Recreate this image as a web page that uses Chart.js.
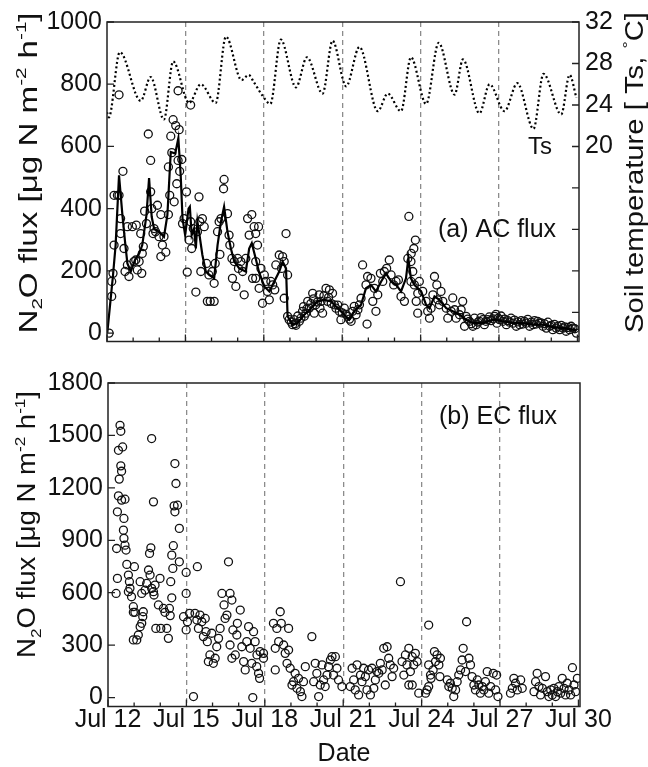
<!DOCTYPE html>
<html>
<head>
<meta charset="utf-8">
<script src="https://cdn.jsdelivr.net/npm/chart.js@4/dist/chart.umd.min.js"></script>
<style>
  html, body { margin: 0; padding: 0; background: #fff; overflow: hidden; }
  #wrap { position: relative; width: 648px; height: 767px; }
  canvas { position: absolute; left: 0; }
  #acCanvas { top: 0; }
  #ecCanvas { top: 360px; }
</style>
</head>
<body>
<div id="wrap">
  <canvas id="acCanvas" width="648" height="360"></canvas>
  <canvas id="ecCanvas" width="648" height="407"></canvas>
</div>
<script>
//..AC chamber flux (open circles, panel a)
const acDay = [
  12.08, 12.18, 12.18, 12.23, 12.27, 12.27, 12.40, 12.46, 12.46, 12.52,
  12.52, 12.61, 12.65, 12.69, 12.78, 12.78, 12.84, 12.97, 13.03, 13.10,
  13.12, 13.16, 13.23, 13.29, 13.33, 13.35, 13.39, 13.44, 13.51, 13.58,
  13.67, 13.67, 13.71, 13.76, 13.80, 13.86, 13.93, 13.99, 14.06, 14.06,
  14.12, 14.18, 14.25, 14.35, 14.35, 14.40, 14.44, 14.48, 14.53, 14.57,
  14.63, 14.67, 14.72, 14.72, 14.76, 14.78, 14.86, 14.89, 14.95, 15.04,
  15.07, 15.14, 15.20, 15.20, 15.24, 15.30, 15.40, 15.46, 15.52, 15.55,
  15.59, 15.65, 15.72, 15.81, 15.84, 15.90, 15.95, 16.03, 16.10, 16.10,
  16.14, 16.23, 16.29, 16.32, 16.36, 16.46, 16.48, 16.61, 16.67, 16.70,
  16.78, 16.80, 16.87, 16.93, 17.00, 17.03, 17.12, 17.19, 17.25, 17.31,
  17.38, 17.44, 17.54, 17.57, 17.63, 17.69, 17.69, 17.69, 17.76, 17.80,
  17.82, 17.89, 17.95, 18.02, 18.08, 18.14, 18.21, 18.27, 18.34, 18.42,
  18.46, 18.59, 18.68, 18.72, 18.78, 18.78, 18.85, 18.91, 18.91, 18.97,
  19.05, 19.10, 19.16, 19.20, 19.23, 19.30, 19.36, 19.42, 19.48, 19.52,
  19.55, 19.61, 19.65, 19.68, 19.74, 19.80, 19.87, 19.90, 19.93, 19.99,
  20.05, 20.12, 20.15, 20.19, 20.25, 20.30, 20.38, 20.44, 20.48, 20.51,
  20.58, 20.63, 20.70, 20.76, 20.83, 20.89, 20.95, 21.00, 21.08, 21.15,
  21.21, 21.28, 21.34, 21.40, 21.46, 21.53, 21.60, 21.66, 21.72, 21.78,
  21.91, 21.95, 21.97, 22.10, 22.17, 22.23, 22.29, 22.36, 22.46, 22.55,
  22.61, 22.70, 22.80, 22.87, 22.97, 23.06, 23.15, 23.25, 23.38, 23.51,
  23.55, 23.63, 23.63, 23.64, 23.70, 23.74, 23.76, 23.80, 23.83, 23.89,
  23.89, 23.95, 24.08, 24.21, 24.27, 24.34, 24.40, 24.47, 24.53, 24.62,
  24.66, 24.72, 24.78, 24.85, 24.98, 25.04, 25.17, 25.23, 25.30, 25.36,
  25.49, 25.55, 25.61, 25.68, 25.74, 25.80, 25.87, 25.94, 26.00, 26.06,
  26.13, 26.19, 26.25, 26.31, 26.38, 26.44, 26.50, 26.57, 26.63, 26.70,
  26.77, 26.83, 26.88, 26.92, 26.97, 27.02, 27.08, 27.15, 27.21, 27.28,
  27.34, 27.40, 27.46, 27.53, 27.59, 27.66, 27.72, 27.79, 27.85, 27.91,
  27.97, 28.04, 28.10, 28.17, 28.23, 28.30, 28.36, 28.42, 28.48, 28.55,
  28.61, 28.68, 28.74, 28.81, 28.87, 28.94, 29.00, 29.06, 29.12, 29.19,
  29.25, 29.32, 29.38, 29.45, 29.51, 29.57, 29.63, 29.70, 29.76, 29.83,
  29.90, 29.96
];
const acFlux = [
  0, 118, 166, 192, 283, 443, 443, 443, 766, 368,
  320, 520, 272, 198, 219, 342, 182, 342, 230, 235,
  347, 203, 230, 320, 192, 256, 278, 392, 352, 640,
  454, 555, 400, 320, 336, 326, 411, 310, 381, 246,
  283, 310, 260, 381, 534, 443, 633, 580, 686, 422,
  667, 480, 555, 779, 654, 520, 558, 352, 368, 454,
  196, 299, 358, 733, 272, 336, 132, 326, 438, 358,
  198, 368, 342, 224, 102, 187, 102, 198, 102, 160,
  224, 326, 358, 253, 368, 464, 494, 384, 315, 283,
  240, 176, 230, 150, 240, 208, 230, 198, 123, 240,
  368, 315, 381, 176, 342, 320, 176, 230, 283, 342,
  144, 208, 96, 187, 166, 134, 107, 166, 155, 139,
  219, 251, 208, 246, 230, 112, 320, 187, 54, 43,
  35, 27, 43, 30, 25, 55, 38, 48, 70, 85,
  54, 64, 78, 102, 80, 95, 128, 110, 64, 91,
  100, 123, 80, 102, 64, 120, 144, 102, 115, 139,
  95, 128, 91, 80, 90, 70, 43, 65, 80, 60,
  54, 45, 38, 70, 86, 59, 75, 91, 112, 219,
  155, 29, 182, 176, 102, 144, 70, 123, 192, 166,
  198, 208, 235, 187, 155, 166, 171, 118, 102, 240,
  375, 230, 166, 256, 198, 272, 155, 299, 102, 64,
  128, 166, 134, 102, 70, 48, 80, 123, 182, 155,
  107, 91, 134, 102, 80, 48, 70, 113, 75, 48,
  59, 75, 102, 22, 54, 45, 38, 30, 22, 48,
  27, 35, 38, 50, 43, 27, 38, 43, 52, 40,
  46, 54, 60, 32, 48, 43, 55, 38, 45, 27,
  40, 35, 48, 32, 42, 22, 36, 27, 40, 29,
  38, 32, 44, 22, 35, 27, 40, 29, 38, 32,
  33, 22, 30, 16, 35, 22, 25, 11, 28, 16,
  22, 11, 25, 16, 20, 6, 18, 11, 22, 16,
  14, 0
];

//..AC flux solid line
const acLineDay = [
  12.01, 12.23, 12.33, 12.46, 12.59, 12.69, 12.78, 12.91, 13.07, 13.23,
  13.35, 13.51, 13.61, 13.71, 13.80, 13.99, 14.18, 14.31, 14.44, 14.61,
  14.73, 14.82, 14.89, 14.99, 15.12, 15.17, 15.24, 15.33, 15.40, 15.46,
  15.52, 15.65, 15.78, 15.91, 16.10, 16.23, 16.36, 16.48, 16.61, 16.74,
  16.87, 17.06, 17.31, 17.44, 17.54, 17.69, 17.82, 18.02, 18.21, 18.40,
  18.59, 18.72, 18.85, 18.91, 19.10, 19.29, 19.55, 19.80, 20.06, 20.31,
  20.57, 20.83, 21.08, 21.27, 21.46, 21.72, 21.91, 22.10, 22.29, 22.49,
  22.68, 22.87, 23.06, 23.25, 23.44, 23.53, 23.63, 23.76, 24.02, 24.21,
  24.34, 24.53, 24.72, 24.98, 25.23, 25.49, 25.74, 26.00, 26.38, 26.76,
  27.15, 27.53, 27.91, 28.30, 28.68, 29.06, 29.45, 29.83, 29.96
];
const acLineFlux = [
  0, 186, 283, 507, 379, 294, 224, 198, 235, 256,
  283, 379, 498, 374, 336, 326, 310, 379, 582, 577,
  626, 507, 368, 315, 400, 406, 315, 336, 272, 358,
  326, 251, 198, 187, 176, 283, 358, 406, 326, 272,
  230, 208, 198, 272, 289, 240, 195, 150, 134, 166,
  198, 230, 208, 54, 27, 32, 59, 80, 102, 107,
  102, 80, 59, 43, 70, 91, 144, 155, 134, 166,
  192, 166, 155, 134, 176, 240, 176, 155, 134, 91,
  80, 118, 107, 80, 70, 59, 43, 32, 32, 43,
  38, 32, 32, 27, 27, 19, 16, 11, 8
];

//..soil temperature Ts (dotted, right axis)
const tsDay = [
  12.00, 12.07, 12.49, 13.29, 13.67, 14.18, 14.53, 15.14, 15.59, 16.16,
  16.55, 17.15, 17.42, 17.62, 17.95, 18.25, 18.65, 19.23, 19.65, 20.25,
  20.63, 21.15, 21.66, 22.36, 22.74, 23.25, 23.63, 24.21, 24.69, 25.30,
  25.62, 26.25, 26.64, 27.21, 27.70, 28.32, 28.70, 29.38, 29.70, 29.96
];
const tsVal = [
  23.3, 22.8, 29.1, 24.4, 26.7, 22.6, 28.2, 24.2, 26.0, 24.2,
  30.6, 26.4, 26.9, 26.2, 24.9, 24.1, 30.3, 25.7, 28.6, 25.1,
  30.2, 25.8, 29.6, 23.4, 25.1, 23.4, 28.6, 24.1, 30.0, 25.0,
  28.4, 23.2, 26.0, 23.4, 26.1, 21.7, 27.0, 23.1, 26.9, 24.7
];

//..EC flux (open circles, panel b)
const ecDay = [
  12.31, 12.33, 12.36, 12.36, 12.40, 12.40, 12.43, 12.46, 12.49, 12.49,
  12.52, 12.52, 12.56, 12.59, 12.61, 12.61, 12.65, 12.65, 12.69, 12.72,
  12.78, 12.78, 12.82, 12.84, 12.90, 12.97, 12.97, 12.97, 13.01, 13.03,
  13.10, 13.16, 13.23, 13.23, 13.29, 13.29, 13.33, 13.35, 13.42, 13.48,
  13.55, 13.59, 13.61, 13.64, 13.67, 13.67, 13.74, 13.74, 13.76, 13.80,
  13.83, 13.93, 13.99, 14.02, 14.12, 14.18, 14.25, 14.31, 14.35, 14.38,
  14.40, 14.44, 14.44, 14.48, 14.50, 14.53, 14.56, 14.56, 14.60, 14.66,
  14.73, 14.73, 14.89, 14.99, 14.99, 14.99, 15.04, 15.12, 15.27, 15.33,
  15.40, 15.42, 15.46, 15.52, 15.59, 15.65, 15.72, 15.75, 15.80, 15.84,
  15.90, 15.97, 16.03, 16.10, 16.16, 16.23, 16.29, 16.36, 16.44, 16.48,
  16.55, 16.61, 16.67, 16.67, 16.74, 16.74, 16.78, 16.87, 16.93, 16.95,
  17.06, 17.12, 17.19, 17.25, 17.31, 17.38, 17.44, 17.50, 17.54, 17.57,
  17.63, 17.69, 17.70, 17.76, 17.80, 17.82, 17.95, 17.95, 18.33, 18.40,
  18.40, 18.46, 18.53, 18.59, 18.63, 18.72, 18.78, 18.85, 18.91, 18.91,
  18.97, 19.04, 19.10, 19.16, 19.23, 19.29, 19.36, 19.42, 19.48, 19.55,
  19.80, 19.87, 19.93, 19.99, 20.06, 20.12, 20.19, 20.25, 20.31, 20.38,
  20.44, 20.51, 20.57, 20.63, 20.70, 20.76, 20.82, 20.95, 21.27, 21.34,
  21.40, 21.46, 21.53, 21.59, 21.66, 21.72, 21.78, 21.85, 21.91, 21.97,
  22.04, 22.10, 22.17, 22.23, 22.29, 22.36, 22.42, 22.49, 22.55, 22.61,
  22.68, 22.74, 22.80, 22.87, 22.93, 23.19, 23.25, 23.32, 23.38, 23.44,
  23.51, 23.51, 23.57, 23.64, 23.64, 23.70, 23.76, 23.83, 23.89, 24.15,
  24.21, 24.27, 24.27, 24.27, 24.34, 24.36, 24.44, 24.49, 24.53, 24.59,
  24.66, 24.70, 24.72, 24.98, 25.04, 25.10, 25.17, 25.23, 25.30, 25.36,
  25.42, 25.49, 25.55, 25.59, 25.68, 25.72, 25.81, 25.87, 25.93, 26.00,
  26.06, 26.13, 26.19, 26.25, 26.32, 26.38, 26.44, 26.51, 26.57, 26.64,
  26.74, 26.83, 26.87, 26.92, 27.40, 27.47, 27.53, 27.59, 27.66, 27.79,
  27.85, 28.30, 28.36, 28.42, 28.49, 28.55, 28.62, 28.74, 28.81, 28.87,
  28.94, 29.00, 29.06, 29.13, 29.19, 29.25, 29.32, 29.38, 29.45, 29.51,
  29.57, 29.64, 29.70, 29.77, 29.83, 29.89, 29.96
];
const ecFlux = [
  596, 853, 682, 1063, 1154, 1415, 1250, 1558, 1524, 1326,
  1295, 1130, 1434, 958, 1025, 911, 1135, 872, 844, 762,
  701, 606, 663, 625, 577, 520, 488, 330, 749, 488,
  330, 358, 406, 663, 425, 596, 463, 491, 615, 653,
  730, 825, 701, 857, 1482, 625, 1120, 606, 587, 644,
  396, 530, 682, 396, 510, 488, 396, 339, 510, 469,
  663, 571, 815, 739, 869, 1097, 1063, 1339, 1225, 1101,
  968, 777, 463, 716, 596, 387, 434, 482, 6, 482,
  444, 749, 396, 472, 434, 349, 453, 377, 320, 206,
  244, 368, 196, 225, 291, 339, 396, 596, 530, 453,
  472, 777, 596, 301, 558, 225, 387, 244, 358, 425,
  501, 291, 206, 158, 320, 406, 282, 196, 0, 377,
  320, 177, 244, 139, 110, 263, 225, 253, 425, 282,
  158, 396, 320, 491, 425, 301, 253, 196, 396, 272,
  168, 72, 91, 139, 53, 110, 34, 6, 91, 177,
  349, 91, 196, 139, 6, 72, 187, 101, 63, 129,
  177, 215, 234, 129, 234, 168, 101, 63, 63, 168,
  101, 44, 187, 15, 129, 91, 168, 120, 44, 158,
  15, 168, 53, 101, 149, 139, 196, 158, 282, 72,
  291, 225, 187, 120, 168, 663, 206, 129, 244, 187,
  282, 72, 149, 234, 72, 187, 253, 206, 25, 25,
  44, 415, 63, 187, 129, 110, 158, 263, 206, 244,
  187, 120, 225, 101, 63, 82, 53, 6, 44, 91,
  129, 158, 215, 282, 149, 434, 225, 187, 120, 72,
  44, 101, 72, 25, 63, 44, 91, 149, 25, 63,
  139, 44, 129, 6, 25, 53, 110, 82, 44, 101,
  53, 34, 91, 139, 63, 15, 53, 120, 34, 6,
  44, 15, 53, 6, 34, 63, 25, 110, 53, 15,
  82, 44, 15, 171, 72, 34, 110
];

//..tick values
const dayTicks = [12, 13, 14, 15, 16, 17, 18, 19, 20, 21, 22, 23, 24, 25, 26, 27, 28, 29, 30];
const acTicks = [0, 200, 400, 600, 800, 1000];
const tsTicks = [4, 8, 12, 16, 20, 24, 28, 32];
const ecTicks = [0, 300, 600, 900, 1200, 1500, 1800];
//..dates with dashed separators
const markDays = [15, 18, 21, 24, 27];

const FONT = "'Liberation Sans', Arial, sans-serif";
const pts = (xs, ys) => xs.map((x, i) => ({ x: x, y: ys[i] }));
const setTicks = list => s => { s.ticks = list.map(v => ({ value: v })); };

//..draws rotated text with sub/superscripts, stretched to a length
function drawRotated(ctx, t) {
    const small = t.size * 0.62;
    let w = 0;
    t.segs.forEach(s => {
        ctx.font = (s.sub || s.sup ? small : t.size) + 'px ' + FONT;
        s.w = ctx.measureText(s.text).width;
        w += s.w;
    });
    ctx.save();
    ctx.translate(t.x, t.y);
    ctx.rotate(-Math.PI / 2);
    ctx.scale(t.len / w, 1);
    ctx.fillStyle = '#111';
    ctx.textBaseline = 'alphabetic';
    let cx = -w / 2;
    const base = t.size * 0.36;
    t.segs.forEach(s => {
        ctx.font = (s.sub || s.sup ? small : t.size) + 'px ' + FONT;
        let dy = base;
        if (s.sub) dy += t.size * 0.22;
        if (s.sup) dy -= t.size * 0.42;
        ctx.fillText(s.text, cx, dy);
        cx += s.w;
    });
    ctx.restore();
}

//..frame, inward ticks, panel labels and axis titles
const deco = {
    id: 'deco',
    afterDraw(chart, args, o) {
        const { ctx, chartArea: a, scales } = chart;
        ctx.save();
        ctx.strokeStyle = '#222';
        ctx.lineWidth = 1.3;
        ctx.beginPath();
        scales.x.ticks.forEach(t => {
            const px = scales.x.getPixelForValue(t.value);
            const len = t.value % 3 === 0 ? 7 : 4;
            ctx.moveTo(px, a.bottom);
            ctx.lineTo(px, a.bottom - len);
        });
        scales.y.ticks.forEach(t => {
            const py = scales.y.getPixelForValue(t.value);
            ctx.moveTo(a.left, py);
            ctx.lineTo(a.left + 7, py);
        });
        if (scales.y2) {
            scales.y2.ticks.forEach(t => {
                const py = scales.y2.getPixelForValue(t.value);
                ctx.moveTo(a.right, py);
                ctx.lineTo(a.right - 7, py);
            });
        }
        ctx.stroke();
        ctx.lineWidth = 1.5;
        ctx.strokeRect(a.left, a.top, a.right - a.left, a.bottom - a.top);

        ctx.fillStyle = '#111';
        ctx.textBaseline = 'middle';
        ctx.textAlign = 'left';
        (o.labels || []).forEach(l => {
            ctx.font = l.size + 'px ' + FONT;
            ctx.fillText(l.text, l.x, l.y);
        });
        (o.titles || []).forEach(t => drawRotated(ctx, t));
        ctx.restore();
    }
};

const fluxTitle = [
    { text: 'N' }, { text: '2', sub: true }, { text: 'O flux [\u03bcg N m' },
    { text: '-2', sup: true }, { text: ' h' }, { text: '-1', sup: true }, { text: ']' }
];
const tsTitle = [
    { text: 'Soil temperature [ Ts, ' }, { text: '\u00b0', sup: true }, { text: 'C]' }
];

const tickFont = { family: FONT, size: 25, lineHeight: 1 };

const xAxis = (showLabels) => ({
    type: 'linear',
    min: 12,
    max: 30.06,
    afterBuildTicks: setTicks(dayTicks),
    ticks: {
        autoSkip: false,
        maxRotation: 0,
        display: showLabels,
        padding: 1,
        color: '#111',
        font: tickFont,
        callback: v => (v % 3 === 0 ? 'Jul ' + v : '')
    },
    grid: {
        drawTicks: false,
        lineWidth: 1.3,
        color: c => (c.tick && markDays.includes(c.tick.value) ? '#8c8c8c' : 'rgba(0,0,0,0)')
    },
    border: { display: false, dash: [5, 4] }
});

//..panel (a): AC flux with Ts
new Chart(document.getElementById('acCanvas'), {
    type: 'scatter',
    data: {
        datasets: [
            {
                label: 'AC line',
                data: pts(acLineDay, acLineFlux),
                showLine: true,
                borderColor: '#000',
                borderWidth: 2.2,
                pointRadius: 0,
                order: 0
            },
            {
                label: 'Ts',
                data: pts(tsDay, tsVal),
                yAxisID: 'y2',
                showLine: true,
                borderColor: '#000',
                borderWidth: 2.2,
                borderDash: [2, 2.6],
                cubicInterpolationMode: 'monotone',
                pointRadius: 0,
                order: 1
            },
            {
                label: 'AC flux',
                data: pts(acDay, acFlux),
                pointRadius: 4,
                pointBorderWidth: 1.3,
                pointBorderColor: '#111',
                pointBackgroundColor: 'rgba(0,0,0,0)',
                order: 2
            }
        ]
    },
    options: {
        responsive: false,
        animation: false,
        devicePixelRatio: 1,
        layout: { padding: { top: 22, left: 0, right: 0, bottom: 0 } },
        plugins: {
            legend: { display: false },
            tooltip: { enabled: false },
            deco: {
                labels: [
                    { text: '(a) AC flux', x: 438, y: 230, size: 25 },
                    { text: 'Ts', x: 528, y: 147, size: 24 }
                ],
                titles: [
                    { segs: fluxTitle, x: 27.5, y: 173, len: 321, size: 25 },
                    { segs: tsTitle, x: 634, y: 172.5, len: 321, size: 25 }
                ]
            }
        },
        scales: {
            x: Object.assign(xAxis(false), { afterFit: s => { s.height = 18; } }),
            y: {
                min: -27,
                max: 1000,
                afterBuildTicks: setTicks(acTicks),
                ticks: { padding: 5, color: '#111', font: tickFont, callback: v => String(v) },
                grid: { display: false, drawTicks: false },
                border: { display: false },
                afterFit: s => { s.width = 107; }
            },
            y2: {
                position: 'right',
                min: 1.2,
                max: 32,
                afterBuildTicks: setTicks(tsTicks),
                ticks: {
                    padding: 6,
                    color: '#111',
                    font: tickFont,
                    callback: v => (v >= 20 ? String(v) : '')
                },
                grid: { display: false, drawTicks: false },
                border: { display: false },
                afterFit: s => { s.width = 69; }
            }
        }
    },
    plugins: [deco]
});

//..panel (b): EC flux
new Chart(document.getElementById('ecCanvas'), {
    type: 'scatter',
    data: {
        datasets: [{
            label: 'EC flux',
            data: pts(ecDay, ecFlux),
            pointRadius: 4,
            pointBorderWidth: 1.3,
            pointBorderColor: '#111',
            pointBackgroundColor: 'rgba(0,0,0,0)'
        }]
    },
    options: {
        responsive: false,
        animation: false,
        devicePixelRatio: 1,
        layout: { padding: { top: 23, left: 0, right: 68, bottom: 0 } },
        plugins: {
            legend: { display: false },
            tooltip: { enabled: false },
            deco: {
                labels: [{ text: '(b) EC flux', x: 439, y: 57, size: 25 }],
                titles: [{ segs: fluxTitle, x: 26, y: 164.5, len: 267, size: 25 }]
            }
        },
        scales: {
            x: Object.assign(xAxis(true), {
                title: { display: true, text: 'Date', color: '#111', font: tickFont, padding: 0 },
                afterFit: s => { s.height = 60.5; }
            }),
            y: {
                min: -51,
                max: 1800,
                afterBuildTicks: setTicks(ecTicks),
                ticks: { padding: 5, color: '#111', font: tickFont, callback: v => String(v) },
                grid: { display: false, drawTicks: false },
                border: { display: false },
                afterFit: s => { s.width = 108; }
            }
        }
    },
    plugins: [deco]
});
</script>
</body>
</html>
